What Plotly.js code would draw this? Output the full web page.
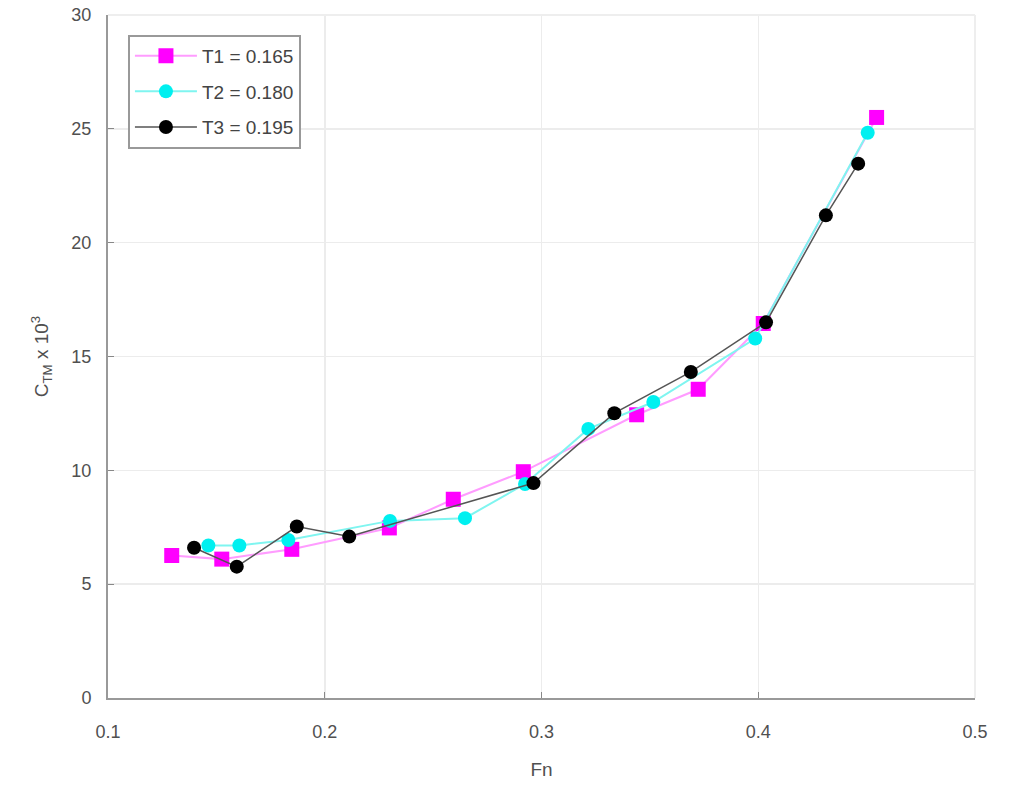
<!DOCTYPE html>
<html>
<head>
<meta charset="utf-8">
<script src="https://cdn.plot.ly/plotly-3.0.1.min.js"></script>
<style>
  html, body { margin: 0; padding: 0; background: #fff; }
  #chart { width: 1024px; height: 785px; }
</style>
</head>
<body>
<div id="chart"></div>
<script>
// values
var fnT1 = [0.1294, 0.1525, 0.1848, 0.2298, 0.2593, 0.2916, 0.3439, 0.3723, 0.4023, 0.4546];
var ctmT1 = [6.26, 6.10, 6.53, 7.47, 8.73, 9.94, 12.44, 13.56, 16.45, 25.5];

var fnT2 = [0.1463, 0.1606, 0.1832, 0.2301, 0.2647, 0.2924, 0.3216, 0.3516, 0.3986, 0.4505];
var ctmT2 = [6.70, 6.70, 6.94, 7.78, 7.90, 9.40, 11.82, 13.0, 15.79, 24.83];

var fnT3 = [0.1397, 0.1594, 0.1871, 0.2113, 0.2963, 0.3336, 0.3689, 0.4036, 0.4312, 0.4461];
var ctmT3 = [6.60, 5.77, 7.53, 7.09, 9.44, 12.51, 14.32, 16.50, 21.2, 23.47];

var seriesNames = ['T1 = 0.165', 'T2 = 0.180', 'T3 = 0.195'];

var traces = [
    {
        x: fnT1, y: ctmT1, name: seriesNames[0], legendgroup: 'a',
        type: 'scatter', mode: 'lines+markers',
        line: { color: '#ff9cff', width: 2 },
        marker: { symbol: 'square', size: 15, color: '#ff00ff' }
    },
    {
        x: fnT2, y: ctmT2, name: seriesNames[1], legendgroup: 'b',
        type: 'scatter', mode: 'lines+markers',
        line: { color: '#7ff5f0', width: 2 },
        marker: { symbol: 'circle', size: 14, color: '#00f0f0' }
    },
    {
        x: fnT3, y: ctmT3, name: seriesNames[2], legendgroup: 'c',
        type: 'scatter', mode: 'lines+markers',
        line: { color: '#555555', width: 1.5 },
        marker: { symbol: 'circle', size: 14, color: '#000000' }
    }
];

var tickFont = { family: 'Liberation Sans, Arial, sans-serif', size: 18, color: '#505050' };

var layout = {
    width: 1024,
    height: 785,
    margin: { l: 108, r: 49, t: 15, b: 87 },
    paper_bgcolor: '#ffffff',
    plot_bgcolor: '#ffffff',
    showlegend: true,
    legend: {
        x: 0.023, y: 0.971, xanchor: 'left', yanchor: 'top',
        bgcolor: '#ffffff',
        bordercolor: '#999999',
        borderwidth: 2,
        itemwidth: 62,
        tracegroupgap: 8,
        font: { family: 'Liberation Sans, Arial, sans-serif', size: 19, color: '#444444' }
    },
    xaxis: {
        range: [0.1, 0.5],
        tickvals: [0.1, 0.2, 0.3, 0.4, 0.5],
        ticktext: ['0.1', '0.2', '0.3', '0.4', '0.5'],
        ticks: 'inside', ticklen: 6, tickcolor: '#888888',
        ticklabelstandoff: 16,
        showline: true, linecolor: '#999999', linewidth: 2,
        showgrid: true, gridcolor: '#ececec', gridwidth: 1.5,
        zeroline: false,
        tickfont: tickFont,
        title: { text: 'Fn', font: { family: 'Liberation Sans, Arial, sans-serif', size: 19, color: '#505050' }, standoff: 22 }
    },
    yaxis: {
        range: [0, 30],
        tickvals: [0, 5, 10, 15, 20, 25, 30],
        ticks: 'inside', ticklen: 6, tickcolor: '#888888',
        ticklabelstandoff: 11,
        showline: true, linecolor: '#999999', linewidth: 2,
        showgrid: true, gridcolor: '#ececec', gridwidth: 1.5,
        zeroline: false,
        tickfont: tickFont,
        title: { text: 'C<sub>TM</sub> x 10<sup>3</sup>', font: { family: 'Liberation Sans, Arial, sans-serif', size: 19, color: '#505050' }, standoff: 18 }
    },
    shapes: [
        { type: 'line', xref: 'paper', yref: 'paper', x0: 0, x1: 1, y0: 1, y1: 1, line: { color: '#eeeeee', width: 2 } },
        { type: 'line', xref: 'paper', yref: 'paper', x0: 1, x1: 1, y0: 0, y1: 1, line: { color: '#eeeeee', width: 2 } }
    ]
};

Plotly.newPlot('chart', traces, layout, { displayModeBar: false, staticPlot: true });
</script>
</body>
</html>
